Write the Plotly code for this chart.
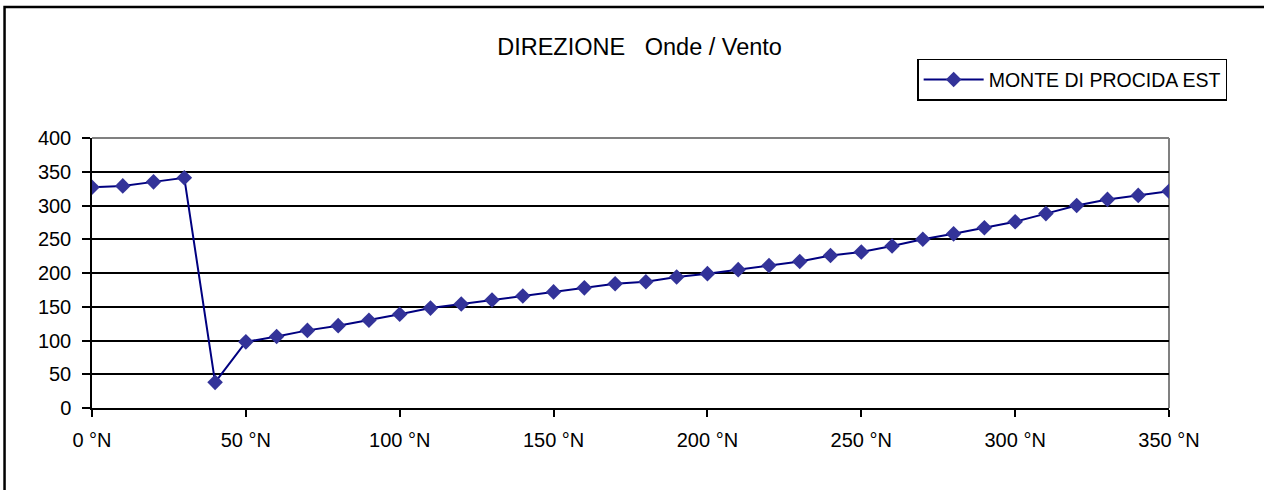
import plotly.graph_objects as go

directions = list(range(0, 360, 10))
values = [327, 329, 335, 341, 38, 98, 106, 115, 122, 130,
          139, 148, 154, 160, 166, 172, 178, 184, 187, 194,
          199, 205, 211, 217, 226, 231, 240, 250, 258, 267,
          276, 288, 300, 309, 315, 321]
x_tickvals = list(range(0, 400, 50))
x_ticktext = [f"{v} °N" for v in x_tickvals]
series_name = "MONTE DI PROCIDA EST"
title_text = "DIREZIONE&nbsp;&nbsp;&nbsp;Onde / Vento"

FONT = "Liberation Sans, Arial, sans-serif"

fig = go.Figure()
fig.add_trace(go.Scatter(
    x=directions, y=values, mode="lines+markers", name=series_name,
    line=dict(color="#000080", width=2),
    marker=dict(symbol="diamond", size=12, color="#333399", line=dict(width=0)),
))

fig.update_layout(
    width=1264, height=490,
    margin=dict(l=92, r=95, t=138, b=82),
    paper_bgcolor="white", plot_bgcolor="white",
    font=dict(family=FONT, size=20, color="black"),
    title=dict(text=title_text, x=0.506, xanchor="center", y=0.904, yanchor="middle",
               font=dict(family=FONT, size=23.5, color="black")),
    showlegend=True,
    legend=dict(x=1.054, xanchor="right", y=1.293, yanchor="top",
                bordercolor="black", borderwidth=1.5, bgcolor="white",
                font=dict(family=FONT, size=19.5, color="black"),
                itemwidth=60, tracegroupgap=0),
    xaxis=dict(range=[0, 350], tickvals=x_tickvals, ticktext=x_ticktext,
               showgrid=False, zeroline=False, showline=True, linecolor="black", linewidth=1.5,
               ticks="outside", ticklen=7, tickcolor="black", tickwidth=1.5,
               ticklabelstandoff=6,
               tickfont=dict(family=FONT, size=20, color="black")),
    yaxis=dict(range=[0, 400], dtick=50, tick0=0,
               showgrid=True, gridcolor="black", gridwidth=1.5, zeroline=False,
               showline=True, linecolor="black", linewidth=1.5,
               ticks="outside", ticklen=8, tickcolor="black", tickwidth=1.5,
               ticklabelstandoff=7,
               tickfont=dict(family=FONT, size=20, color="black")),
    shapes=[
        dict(type="line", xref="paper", yref="paper", x0=0, x1=1, y0=1, y1=1,
             line=dict(color="#808080", width=2), layer="between"),
        dict(type="line", xref="paper", yref="paper", x0=1, x1=1, y0=0, y1=1,
             line=dict(color="#808080", width=2), layer="between"),
        dict(type="rect", xref="paper", yref="paper", x0=-0.0812, x1=1.3, y0=-0.5, y1=1.485,
             line=dict(color="black", width=2.5), layer="below"),
    ],
)

fig.write_html("out.html")
